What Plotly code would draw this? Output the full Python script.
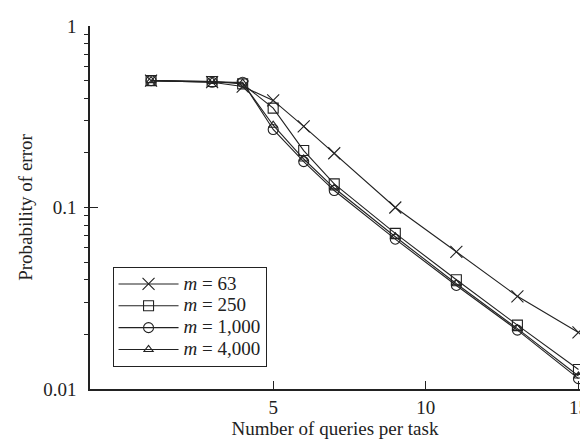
import plotly.graph_objects as go

queries = [1, 3, 4, 5, 6, 7, 9, 11, 13, 15]
err_m63 = [0.50, 0.49, 0.464, 0.389, 0.28, 0.199, 0.100, 0.057, 0.0324, 0.0205]
err_m250 = [0.50, 0.495, 0.48, 0.353, 0.206, 0.135, 0.072, 0.040, 0.0225, 0.0128]
err_m1000 = [0.50, 0.49, 0.49, 0.269, 0.179, 0.124, 0.0669, 0.0372, 0.0211, 0.0114]
err_m4000 = [0.50, 0.495, 0.485, 0.284, 0.185, 0.128, 0.069, 0.038, 0.0215, 0.0118]

labels = ["63", "250", "1,000", "4,000"]
symbols = ["x-thin-open", "square-open", "circle-open", "triangle-up-open"]
sizes = [12, 10, 10, 8]
values = [err_m63, err_m250, err_m1000, err_m4000]

FONT = "Liberation Serif, Times New Roman, serif"
INK = "#222222"
fig = go.Figure()
for lab, vals, sym, sz in zip(labels, values, symbols, sizes):
    fig.add_trace(go.Scatter(
        x=queries, y=vals, mode="lines+markers",
        name=f"<span style='font-size:19px'><i>m</i> = {lab}</span>",
        line=dict(color=INK, width=1.1),
        marker=dict(symbol=sym, size=sz, color=INK,
                    line=dict(width=1.1, color=INK)),
        cliponaxis=False,
    ))

fig.update_layout(
    width=588, height=441,
    margin=dict(l=82, r=8, t=15, b=60),
    paper_bgcolor="white", plot_bgcolor="white",
    font=dict(family=FONT, size=19, color=INK),
    showlegend=True,
    legend=dict(
        x=0.046, y=0.336, xanchor="left", yanchor="top",
        bordercolor=INK, borderwidth=1, bgcolor="white",
        font=dict(family=FONT, size=14.5, color=INK),
        itemwidth=60, tracegroupgap=0,
    ),
)
fig.update_xaxes(
    range=[-1, 15.05], tickvals=[5, 10, 15], ticktext=["5", "10", "15"],
    ticks="inside", ticklen=8, tickcolor=INK, tickwidth=1.2,
    ticklabeloverflow="allow", tickfont=dict(size=19),
    showline=True, linecolor=INK, linewidth=1.5,
    showgrid=False, zeroline=False,
    title=dict(text="Number of queries per task", standoff=5, font=dict(size=19)),
)
fig.update_yaxes(
    type="log", range=[-2, 0],
    tickvals=[0.01, 0.1, 1], ticktext=["0.01", "0.1", "1"],
    ticks="inside", ticklen=8, tickcolor=INK, tickwidth=1.2,
    ticklabelstandoff=8, tickfont=dict(size=19),
    minor=dict(ticks="outside", ticklen=4, tickcolor=INK, tickwidth=1.2,
               dtick="D1", showgrid=False),
    showline=True, linecolor=INK, linewidth=1.5,
    showgrid=False, zeroline=False,
    title=dict(text="Probability of error", standoff=6, font=dict(size=19)),
)

fig.write_html("out.html")
